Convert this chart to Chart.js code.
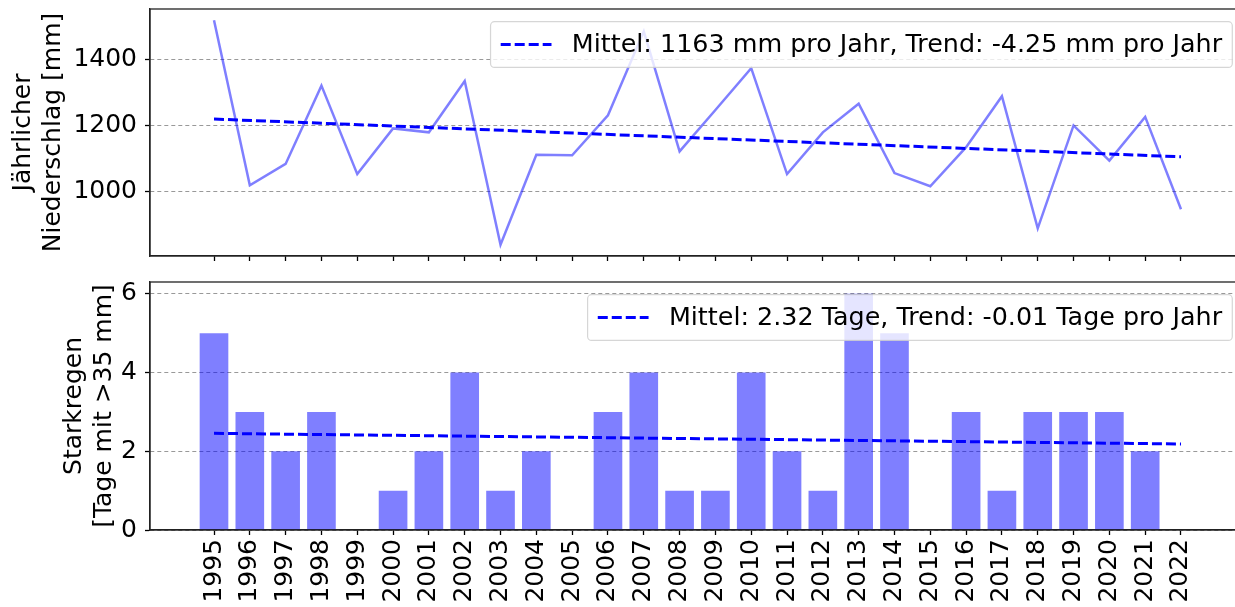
<!DOCTYPE html>
<html>
<head>
<meta charset="utf-8">
<script src="https://cdn.jsdelivr.net/npm/chart.js@4.4.1/dist/chart.umd.min.js"></script>
<style>
  html, body { margin: 0; padding: 0; background: #fff; }
  #wrap { position: relative; width: 1235px; height: 607px; overflow: hidden; background: #fff; }
  .box { position: absolute; left: 0; }
</style>
</head>
<body>
<div id="wrap">
  <div class="box" style="top:0"><canvas id="c1" width="1260" height="270"></canvas></div>
  <div class="box" style="top:270px"><canvas id="c2" width="1260" height="337"></canvas></div>
</div>
<script>
// ---- data ----
const years = [1995,1996,1997,1998,1999,2000,2001,2002,2003,2004,2005,2006,2007,2008,
               2009,2010,2011,2012,2013,2014,2015,2016,2017,2018,2019,2020,2021,2022];
const precipitation = [1521,1019,1084,1322,1053,1192,1180,1336,838,1112,1110,1232,1487,1122,
                       1248,1375,1053,1180,1267,1056,1016,1135,1290,888,1201,1094,1227,946];
const heavyRainDays = [5,3,2,3,0,1,2,4,1,2,0,3,4,1,1,4,2,1,6,5,0,3,1,3,3,3,2,0];
const precipTrend = [1220.4, 1105.6];   // trend line at first and last year
const heavyTrend = [2.455, 2.185];
const precipTicks = [1000, 1200, 1400];
const heavyTicks = [0, 2, 4, 6];
const precipLabel = 'Mittel: 1163 mm pro Jahr, Trend: -4.25 mm pro Jahr';
const heavyLabel = 'Mittel: 2.32 Tage, Trend: -0.01 Tage pro Jahr';
const precipTitle = ['Jährlicher', 'Niederschlag [mm]'];
const heavyTitle = ['Starkregen', '[Tage mit >35 mm]'];

// ---- styling ----
const FS = 25;
const LFS = 25.4;
const FONT = '"DejaVu Sans", sans-serif';
Chart.defaults.font.family = FONT;
Chart.defaults.font.size = FS;
Chart.defaults.color = '#000';
const XMARGIN = 1.787;
const SPINE = '#222';

const frameAndLegend = {
  id: 'frameAndLegend',
  afterDatasetsDraw(chart, args, opts) {
    const ctx = chart.ctx, ca = chart.chartArea;
    ctx.save();
    // spines
    ctx.strokeStyle = SPINE; ctx.lineWidth = 1.3; ctx.setLineDash([]);
    ctx.strokeRect(ca.left, ca.top, ca.right - ca.left, ca.bottom - ca.top);
    // legend
    const ds = chart.data.datasets[opts.index];
    ctx.font = LFS + 'px ' + FONT;
    const tw = ctx.measureText(ds.label).width;
    const pad = 0.4 * LFS, handle = 2 * LFS, hpad = 0.8 * LFS, axpad = 0.5 * LFS;
    const h = LFS + 2 * pad;
    const w = tw + 2 * pad + handle + hpad;
    const right = ca.right - axpad, top = ca.top + axpad, left = right - w;
    ctx.beginPath();
    ctx.roundRect(left, top, w, h, 4);
    ctx.fillStyle = 'rgba(255,255,255,0.8)';
    ctx.fill();
    ctx.strokeStyle = 'rgba(204,204,204,0.8)'; ctx.lineWidth = 1.2;
    ctx.stroke();
    const cy = top + h / 2;
    ctx.beginPath();
    ctx.setLineDash(ds.borderDash);
    ctx.strokeStyle = ds.borderColor; ctx.lineWidth = ds.borderWidth;
    ctx.moveTo(left + pad, cy); ctx.lineTo(left + pad + handle, cy);
    ctx.stroke();
    ctx.setLineDash([]);
    ctx.fillStyle = '#000'; ctx.textBaseline = 'middle'; ctx.textAlign = 'left';
    ctx.fillText(ds.label, left + pad + handle + hpad, cy + 1);
    ctx.restore();
  }
};

function noPad(s) { s.paddingTop = 0; s.paddingBottom = 0; s.paddingLeft = 0; s.paddingRight = 0; }

function xScale(showLabels, height) {
  return {
    type: 'linear',
    min: years[0] - XMARGIN,
    max: years[years.length - 1] + XMARGIN,
    offset: false,
    afterBuildTicks: s => { s.ticks = years.map(v => ({ value: v })); },
    afterFit: s => { s.height = height; noPad(s); },
    grid: { display: true, drawOnChartArea: false, drawTicks: true, tickLength: 5,
            tickColor: '#000', tickWidth: 1.3, offset: false },
    border: { display: true, color: SPINE, width: 1.3 },
    ticks: { display: showLabels, autoSkip: false, minRotation: 90, maxRotation: 90,
             padding: 4, color: '#000', font: { size: FS },
             callback: v => String(v) }
  };
}
function yScale(min, max, tickVals, title, titlePad) {
  return {
    type: 'linear', min: min, max: max,
    afterBuildTicks: s => { s.ticks = tickVals.map(v => ({ value: v })); },
    afterFit: s => { s.width = 150; noPad(s); },
    grid: { display: true, drawOnChartArea: true, color: '#999', lineWidth: 1,
            drawTicks: true, tickLength: 5, tickColor: '#000', tickWidth: 1.3, tickBorderDash: [] },
    border: { display: true, color: SPINE, width: 1.3, dash: [4, 3] },
    ticks: { padding: 8, color: '#000', font: { size: FS }, callback: v => String(v) },
    title: { display: true, text: title, color: '#000', font: { size: FS, lineHeight: 1.2 },
             padding: { top: titlePad, bottom: 0 } }
  };
}
const common = {
  responsive: false, animation: false, devicePixelRatio: 1,
  plugins: { legend: { display: false }, tooltip: { enabled: false } }
};

new Chart(document.getElementById('c1'), {
  type: 'line',
  data: {
    datasets: [
      { label: precipLabel, data: [{ x: years[0], y: precipTrend[0] }, { x: years[years.length - 1], y: precipTrend[1] }],
        borderColor: 'blue', borderWidth: 3, borderDash: [10, 4], pointRadius: 0, order: 1 },
      { label: 'Niederschlag', data: years.map((y, i) => ({ x: y, y: precipitation[i] })),
        borderColor: 'rgba(0,0,255,0.5)', borderWidth: 2.5, pointRadius: 0, tension: 0, order: 2 }
    ]
  },
  options: Object.assign({}, common, {
    layout: { padding: { top: 9, right: 15, left: 0, bottom: 0 } },
    scales: { x: xScale(false, 14), y: yScale(804, 1555, precipTicks, precipTitle, 8) },
    plugins: Object.assign({}, common.plugins, { frameAndLegend: { index: 0 } })
  }),
  plugins: [frameAndLegend]
});

new Chart(document.getElementById('c2'), {
  type: 'bar',
  data: {
    datasets: [
      { type: 'line', label: heavyLabel, data: [{ x: years[0], y: heavyTrend[0] }, { x: years[years.length - 1], y: heavyTrend[1] }],
        borderColor: 'blue', borderWidth: 3, borderDash: [10, 4], pointRadius: 0, order: 1 },
      { type: 'bar', label: 'Starkregen', data: years.map((y, i) => ({ x: y, y: heavyRainDays[i] })),
        backgroundColor: 'rgba(0,0,255,0.5)', borderWidth: 0,
        barPercentage: 0.8, categoryPercentage: 1.0, order: 2 }
    ]
  },
  options: Object.assign({}, common, {
    layout: { padding: { top: 12, right: 15, left: 0, bottom: 0 } },
    scales: { x: xScale(true, 77), y: yScale(0, 6.3, heavyTicks, heavyTitle, 59) },
    plugins: Object.assign({}, common.plugins, { frameAndLegend: { index: 0 } })
  }),
  plugins: [frameAndLegend]
});
</script>
</body>
</html>
